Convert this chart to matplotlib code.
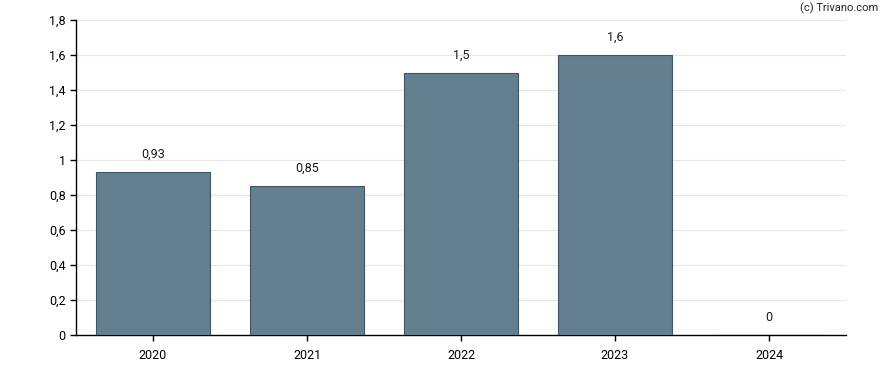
import matplotlib
matplotlib.use("Agg")
import matplotlib.pyplot as plt
from matplotlib.ticker import FuncFormatter

years = ["2020", "2021", "2022", "2023", "2024"]
values = [0.93, 0.85, 1.5, 1.6, 0.0]
labels = ["0,93", "0,85", "1,5", "1,6", "0"]
yticks = [0, 0.2, 0.4, 0.6, 0.8, 1.0, 1.2, 1.4, 1.6, 1.8]

plt.rcParams['font.family'] = ['Roboto', 'DejaVu Sans']

fig = plt.figure(figsize=(8.88, 3.70), dpi=100)
ax = fig.add_axes([76/888, 1-335/370, 770/888, 315/370])

x = list(range(len(years)))
ax.bar(x, values, width=0.74, color="#64808f", edgecolor="#3e5565", linewidth=0.8, zorder=3)

for xi, v, lab in zip(x, values, labels):
    ax.annotate(lab, (xi, v), xytext=(0, 8), textcoords="offset points",
                ha="center", va="bottom", fontsize=9, color="#1a1a1a")

ax.set_xlim(-0.5, 4.5)
ax.set_ylim(0, 1.8)
ax.set_yticks(yticks)
ax.yaxis.set_major_formatter(FuncFormatter(lambda v, p: ("%g" % round(v, 1)).replace(".", ",")))
ax.set_xticks(x)
ax.set_xticklabels(years)
ax.grid(axis="y", color="#e6e6e6", linewidth=0.8, zorder=0)
ax.set_axisbelow(True)
for s in ["top", "right"]:
    ax.spines[s].set_visible(False)
for s in ["left", "bottom"]:
    ax.spines[s].set_color("black")
    ax.spines[s].set_linewidth(1.0)
ax.tick_params(axis="both", labelsize=9, colors="black", length=4, width=1)
ax.tick_params(axis="x", pad=6)

fig.text(878/888, 1-8/370, "(c) Trivano.com", ha="right", va="center", fontsize=8, color="#222222")

fig.savefig("out.png", dpi=100)
